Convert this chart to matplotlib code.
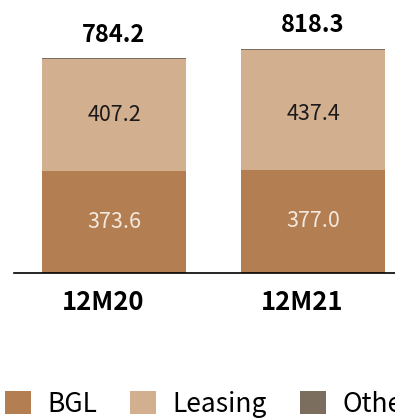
import matplotlib
matplotlib.use("Agg")
import matplotlib.pyplot as plt
import numpy as np

plt.rcParams['font.family'] = ['Noto Sans CJK JP', 'DejaVu Sans']

periods = ["12M20", "12M21"]
bgl = [373.6, 377.0]
leasing = [407.2, 437.4]
totals = [784.2, 818.3]
others = [round(t - b - l, 1) for t, b, l in zip(totals, bgl, leasing)]

series_names = ["BGL", "Leasing", "Others"]
colors = ["#b37f52", "#d2af8f", "#7b6e5e"]

fig = plt.figure(figsize=(3.95, 4.19), dpi=100)
ax = fig.add_axes([14 / 395, 1 - 273 / 419, 1 - 14 / 395, 273 / 419])

x = np.arange(len(periods))
w = 0.724
b1 = ax.bar(x, bgl, w, color=colors[0], label=series_names[0])
b2 = ax.bar(x, leasing, w, bottom=bgl, color=colors[1], label=series_names[1])
b3 = ax.bar(x, others, w, bottom=np.add(bgl, leasing), color=colors[2],
            label=series_names[2])

ax.set_xlim(-0.5025, 1.412)
ax.set_ylim(0, 998)

# segment labels
for xi, v in zip(x, bgl):
    ax.text(xi, v / 2, f"{v:.1f}", ha="center", va="center",
            fontsize=15.5, color="#f3e9df")
for xi, base, v in zip(x, bgl, leasing):
    ax.annotate(f"{v:.1f}", (xi, base), xytext=(0, 40), textcoords="offset points",
                ha="center", va="center", fontsize=15.5, color="#1a1a1a")
for xi, t in zip(x, totals):
    ax.annotate(f"{t:.1f}", (xi, t), xytext=(0, 12), textcoords="offset points",
                ha="center", va="baseline", fontsize=17, fontweight="bold",
                color="black")

# period names under the axis, set a little left of the bar centres
for xi, p in zip(x, periods):
    ax.annotate(p, (xi, 0), xytext=(-8, -21), textcoords="offset points",
                ha="center", va="center", fontsize=18.5, fontweight="bold",
                color="black")

ax.set_xticks([])
ax.set_yticks([])

for s in ["top", "right", "left"]:
    ax.spines[s].set_visible(False)
ax.spines["bottom"].set_linewidth(1.2)
ax.spines["bottom"].set_color("black")

fig.legend(handles=[b1, b2, b3], labels=series_names, loc="lower left",
           bbox_to_anchor=(0.0, -0.01), ncol=3, frameon=False, fontsize=19,
           handlelength=0.98, handleheight=0.98, handletextpad=0.62,
           columnspacing=1.25, borderaxespad=0, borderpad=0.2)

fig.savefig("out.png", dpi=100)
